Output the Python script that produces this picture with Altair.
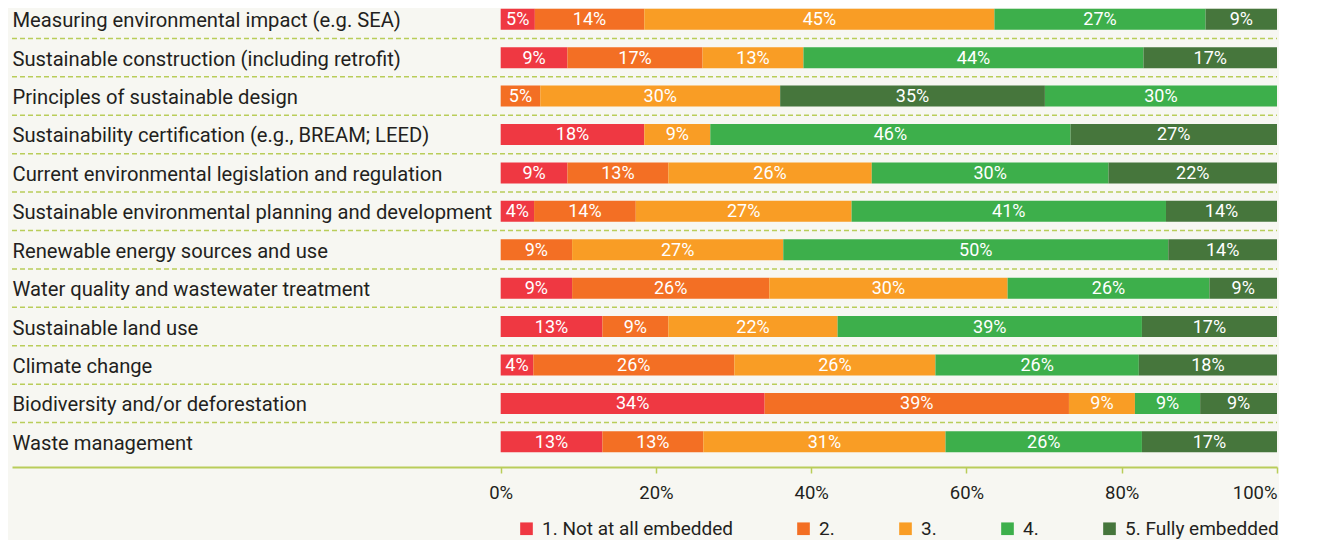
import altair as alt
import pandas as pd

categories = [
    "Measuring environmental impact (e.g. SEA)",
    "Sustainable construction (including retrofit)",
    "Principles of sustainable design",
    "Sustainability certification (e.g., BREAM; LEED)",
    "Current environmental legislation and regulation",
    "Sustainable environmental planning and development",
    "Renewable energy sources and use",
    "Water quality and wastewater treatment",
    "Sustainable land use",
    "Climate change",
    "Biodiversity and/or deforestation",
    "Waste management",
]
levels = ["1. Not at all embedded", "2.", "3.", "4.", "5. Fully embedded"]
colors = ["#ef3842", "#f36f24", "#f99d25", "#3daf4b", "#46763c"]

# segment widths (share of respondents, %) as drawn
share_1 = [4.4, 8.6, 0.0, 18.5, 8.6, 4.3, 0.0, 9.2, 13.1, 4.2, 34.0, 13.1]
share_2 = [14.1, 17.4, 5.1, 0.0, 13.0, 13.1, 9.2, 25.4, 8.5, 25.9, 39.2, 13.0]
share_3 = [45.1, 13.0, 30.9, 8.5, 26.2, 27.8, 27.2, 30.7, 21.8, 25.9, 8.5, 31.2]
share_4 = [27.2, 43.8, 29.9, 46.4, 30.5, 40.5, 49.6, 26.0, 39.2, 26.2, 8.4, 25.3]
share_5 = [9.2, 17.2, 34.1, 26.6, 21.7, 14.3, 14.0, 8.7, 17.4, 17.8, 9.9, 17.4]

# printed labels (%)
label_1 = [5, 9, None, 18, 9, 4, None, 9, 13, 4, 34, 13]
label_2 = [14, 17, 5, None, 13, 14, 9, 26, 9, 26, 39, 13]
label_3 = [45, 13, 30, 9, 26, 27, 27, 30, 22, 26, 9, 31]
label_4 = [27, 44, 30, 46, 30, 41, 50, 26, 39, 26, 9, 26]
label_5 = [9, 17, 35, 27, 22, 14, 14, 9, 17, 18, 9, 17]

# stacking order of the levels in each bar (one row shows level 5 before level 4)
stack_rank_exceptions = {"Principles of sustainable design": [1, 2, 3, 5, 4]}

shares = [share_1, share_2, share_3, share_4, share_5]
labels = [label_1, label_2, label_3, label_4, label_5]

rows = []
for i, cat in enumerate(categories):
    ranks = stack_rank_exceptions.get(cat, [1, 2, 3, 4, 5])
    for j, lev in enumerate(levels):
        s = shares[j][i]
        if s <= 0:
            continue
        rows.append({"cat": cat, "level": lev, "share": s,
                     "pct": labels[j][i], "rank": ranks[j]})
df = pd.DataFrame(rows)

FONT = "Roboto"
TXT = "#231f20"
GREEN_LINE = "#b9cd5a"
SHIFT = -8

y_enc = alt.Y(
    "cat:N", sort=categories,
    scale=alt.Scale(paddingInner=0, paddingOuter=0),
    axis=alt.Axis(title=None, labelAlign="left", labelPadding=0, ticks=False,
                  domain=False, grid=False, labelFontSize=20.2, labelColor=TXT,
                  labelFont=FONT, labelOffset=SHIFT + 2, labelLimit=0),
)

x_scale = alt.Scale(domain=[-62.95, 100], nice=False, zero=False)

base = alt.Chart(df).transform_stack(
    stack="share", groupby=["cat"], sort=[alt.SortField("rank")], as_=["x0", "x1"]
).transform_calculate(
    mid="(datum.x0 + datum.x1) / 2", lab="datum.pct + '%'"
)

bars = base.mark_bar(height=21, yOffset=SHIFT).encode(
    x=alt.X("x0:Q", scale=x_scale, axis=alt.Axis(
        values=[0, 20, 40, 60, 80, 100], labelExpr="datum.value + '%'",
        title=None, grid=False, offset=-2, domainColor=GREEN_LINE, domainWidth=2,
        tickColor=GREEN_LINE, tickSize=6, tickWidth=1.5, labelFontSize=18.5,
        labelColor=TXT, labelFont=FONT, labelPadding=10)),
    x2="x1:Q",
    y=y_enc,
    color=alt.Color("level:N", scale=alt.Scale(domain=levels, range=colors),
                    legend=alt.Legend(title=None, orient="none", legendX=505, legendY=511,
                                      direction="horizontal", symbolType="square",
                                      symbolSize=160, symbolStrokeWidth=0,
                                      labelFontSize=19, labelFont=FONT, labelColor=TXT,
                                      columnPadding=61, labelOffset=6, labelLimit=0)),
)

text = base.mark_text(color="white", fontSize=18, font=FONT, yOffset=SHIFT + 1).encode(
    x=alt.X("mid:Q", scale=x_scale),
    y=alt.Y("cat:N", sort=categories),
    text="lab:N",
)

rules = alt.Chart(pd.DataFrame({"cat": categories[1:]})).mark_rule(
    strokeDash=[5, 3], color=GREEN_LINE, strokeWidth=1.5, yOffset=SHIFT
).encode(
    y=alt.Y("cat:N", sort=categories, bandPosition=0),
    x=alt.value(0),
    x2=alt.value("width"),
)

chart = alt.layer(rules, bars, text).properties(
    width=1265, height=461, background="#f7f7f2",
    padding={"left": 3, "top": 0, "right": 0, "bottom": 4},
).configure_view(stroke=None)

chart.save("out.html", embed_options={"renderer": "svg", "actions": False})
